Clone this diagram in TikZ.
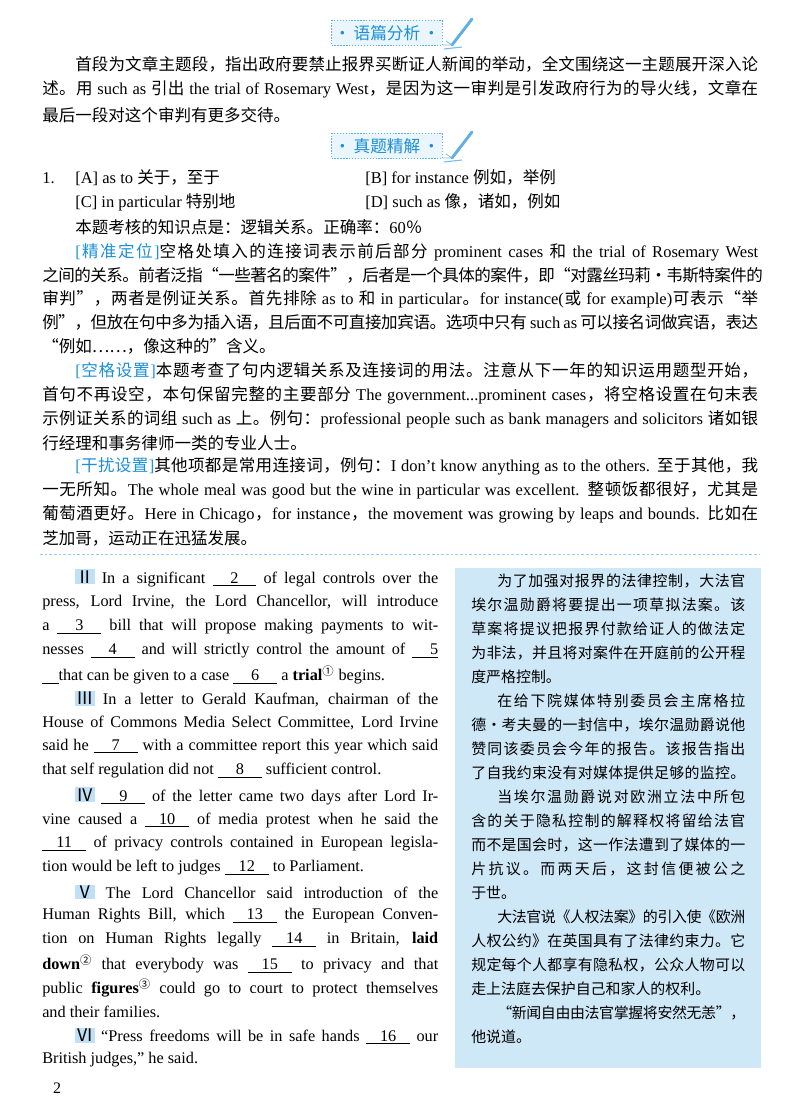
\documentclass[tikz,border=0pt]{standalone}
\usepackage{fontspec}
\usetikzlibrary{calc}
\setmainfont{Liberation Serif}
\newfontfamily\cjk{Noto Sans CJK SC}
\definecolor{hblue}{HTML}{1C8FD6}
\definecolor{hfill}{HTML}{EAF5FC}
\definecolor{boxblue}{HTML}{CFE8F7}
\definecolor{rnblue}{HTML}{BFE0F5}
\makeatletter
\XeTeXinterchartokenstate=1
\newXeTeXintercharclass\cjkclass
\def\setcls#1#2{\count@=#1 \loop\XeTeXcharclass\count@=\cjkclass\advance\count@ 1 \ifnum\count@<#2\repeat}
\setcls{"4E00}{"A000}
\setcls{"3000}{"3040}
\setcls{"FF00}{"FFF0}
\setcls{"2160}{"2180}
\setcls{"2460}{"2500}
\XeTeXcharclass"201C=\cjkclass \XeTeXcharclass"201D=\cjkclass
\XeTeXcharclass"2026=\cjkclass \XeTeXcharclass"00B7=\cjkclass
\makeatother
\XeTeXinterchartoks 0 \cjkclass {\hskip0pt plus 1pt minus 0.3pt\cjk}
\XeTeXinterchartoks 4095 \cjkclass {\cjk}
\XeTeXinterchartoks \cjkclass 0 {\rmfamily\hskip0pt plus 1pt minus 0.3pt}
\XeTeXinterchartoks \cjkclass 4095 {\rmfamily}
\XeTeXinterchartoks \cjkclass \cjkclass {\hskip0pt plus 1pt minus 0.4pt}
\newdimen\pxu \pxu=0.75pt
\newcommand\J[4]{\node[anchor=west,inner sep=0pt] at (#1,#2) {\hbox to #3\pxu{#4}};}
\newcommand\Lf[3]{\node[anchor=west,inner sep=0pt] at (#1,#2) {#3};}
\newcommand\bt[1]{{\color{hblue}#1}}
\newcommand\bl[1]{\underline{\makebox[2.7em]{#1}}}
\newcommand\rn[1]{{\setlength{\fboxsep}{0.8pt}\colorbox{rnblue}{\fontsize{13}{14}\selectfont#1}}}
\tikzset{
 hdr/.style={draw=hblue!70, dash pattern=on 1pt off 1.2pt, fill=hfill, text=hblue,
   font=\fontsize{12.5}{15}\selectfont, minimum width=79pt, minimum height=19pt, inner sep=2pt},
 pen/.style={hblue!70, line width=2.2pt, line cap=round},
 top/.style={every node/.append style={font=\fontsize{12.4}{15}\selectfont}},
 lcol/.style={every node/.append style={font=\fontsize{12.2}{14}\selectfont}},
 rcol/.style={every node/.append style={font=\fontsize{11.2}{14}\selectfont}}
}
\begin{document}
\begin{tikzpicture}[x=0.75pt,y=-0.75pt]
\useasboundingbox (0,0) rectangle (800,1115);
% headers
\node[hdr] (h1) at (387,33) {·\,语篇分析\,·};
\node[hdr] (h2) at (387,146) {·\,真题精解\,·};
\foreach \yy/\nm in {33/a,146/b}{
 \coordinate (pa\nm) at (452,\yy+12); \coordinate (pb\nm) at (472,\yy-14);
 \draw[pen] (pa\nm) -- (pb\nm);
 \draw[hblue!60, line width=0.8pt] ($(pa\nm)+(-8,4)$) -- ($(pa\nm)+(10,2)$);
 \draw[hblue!60, line width=0.6pt] ($(pa\nm)+(-6,-4)$) -- (pa\nm) -- ($(pa\nm)+(-9,0)$);
}
\begin{scope}[top]
\J{75}{64}{683}{首段为文章主题段，指出政府要禁止报界买断证人新闻的举动，全文围绕这一主题展开深入论}
\J{42}{89}{716}{述。用 such as 引出 the trial of Rosemary West，是因为这一审判是引发政府行为的导火线，文章在}
\Lf{42}{115}{最后一段对这个审判有更多交待。}
\Lf{42}{178}{1.}
\Lf{75}{178}{[A] as to 关于，至于}
\Lf{365}{178}{[B] for instance 例如，举例}
\Lf{75}{202}{[C] in particular 特别地}
\Lf{365}{202}{[D] such as 像，诸如，例如}
\Lf{75}{227}{本题考核的知识点是：逻辑关系。正确率：60％}
\J{75}{252}{683}{\bt{[精准定位]}空格处填入的连接词表示前后部分 prominent cases 和 the trial of Rosemary West}
\J{42}{275}{716}{之间的关系。前者泛指“一些著名的案件”，后者是一个具体的案件，即“对露丝玛莉·韦斯特案件的}
\J{42}{299}{716}{审判”，两者是例证关系。首先排除 as to 和 in particular。for instance(或 for example)可表示“举}
\J{42}{322}{716}{例”，但放在句中多为插入语，且后面不可直接加宾语。选项中只有 such as 可以接名词做宾语，表达}
\Lf{42}{346}{“例如……，像这种的”含义。}
\J{75}{371}{683}{\bt{[空格设置]}本题考查了句内逻辑关系及连接词的用法。注意从下一年的知识运用题型开始，}
\J{42}{395}{716}{首句不再设空，本句保留完整的主要部分 The government...prominent cases，将空格设置在句末表}
\J{42}{419}{716}{示例证关系的词组 such as 上。例句：professional people such as bank managers and solicitors 诸如银}
\Lf{42}{443}{行经理和事务律师一类的专业人士。}
\J{75}{466}{683}{\bt{[干扰设置]}其他项都是常用连接词，例句：I don't know anything as to the others. 至于其他，我}
\J{42}{490}{716}{一无所知。The whole meal was good but the wine in particular was excellent. 整顿饭都很好，尤其是}
\J{42}{514}{716}{葡萄酒更好。Here in Chicago，for instance，the movement was growing by leaps and bounds. 比如在}
\Lf{42}{538}{芝加哥，运动正在迅猛发展。}
\end{scope}
\coordinate (s1) at (40,554); \coordinate (s2) at (760,554);
\draw[hblue!45, dash pattern=on 2pt off 1.5pt, line width=0.7pt] (s1) -- (s2);
% right box
\node[fill=boxblue, inner sep=0pt, minimum width=229.5pt, minimum height=375pt, anchor=north west] (rbox) at (455,568) {};
\begin{scope}[lcol]
\J{75}{578}{363}{\rn{Ⅱ} In a significant \bl{2} of legal controls over the}
\J{42}{603}{396}{press, Lord Irvine, the Lord Chancellor, will introduce}
\J{42}{627}{396}{a \bl{3} bill that will propose making payments to wit-}
\J{42}{651}{396}{nesses \bl{4} and will strictly control the amount of \underline{\makebox[1.6em][r]{5}}}
\Lf{42}{675}{\underline{\makebox[1em]{}}that can be given to a case \bl{6} a \textbf{trial}\textsuperscript{①} begins.}
\J{75}{699}{363}{\rn{Ⅲ} In a letter to Gerald Kaufman, chairman of the}
\J{42}{723}{396}{House of Commons Media Select Committee, Lord Irvine}
\J{42}{747}{396}{said he \bl{7} with a committee report this year which said}
\Lf{42}{771}{that self regulation did not \bl{8} sufficient control.}
\J{75}{796}{363}{\rn{Ⅳ} \bl{9} of the letter came two days after Lord Ir-}
\J{42}{820}{396}{vine caused a \bl{10} of media protest when he said the}
\J{42}{844}{396}{\bl{11} of privacy controls contained in European legisla-}
\Lf{42}{868}{tion would be left to judges \bl{12} to Parliament.}
\J{75}{892}{363}{\rn{Ⅴ} The Lord Chancellor said introduction of the}
\J{42}{916}{396}{Human Rights Bill, which \bl{13} the European Conven-}
\J{42}{940}{396}{tion on Human Rights legally \bl{14} in Britain, \textbf{laid}}
\J{42}{964}{396}{\textbf{down}\textsuperscript{②} that everybody was \bl{15} to privacy and that}
\J{42}{988}{396}{public \textbf{figures}\textsuperscript{③} could go to court to protect themselves}
\Lf{42}{1012}{and their families.}
\J{75}{1036}{363}{\rn{Ⅵ} ``Press freedoms will be in safe hands \bl{16} our}
\Lf{42}{1060}{British judges,'' he said.}
\end{scope}
\begin{scope}[rcol]
\J{497}{581}{248}{为了加强对报界的法律控制，大法官}
\J{471}{605}{274}{埃尔温勋爵将要提出一项草拟法案。该}
\J{471}{629}{274}{草案将提议把报界付款给证人的做法定}
\J{471}{653}{274}{为非法，并且将对案件在开庭前的公开程}
\Lf{471}{677}{度严格控制。}
\J{497}{701}{248}{在给下院媒体特别委员会主席格拉}
\J{471}{725}{274}{德·考夫曼的一封信中，埃尔温勋爵说他}
\J{471}{749}{274}{赞同该委员会今年的报告。该报告指出}
\J{471}{773}{274}{了自我约束没有对媒体提供足够的监控。}
\J{497}{797}{248}{当埃尔温勋爵说对欧洲立法中所包}
\J{471}{821}{274}{含的关于隐私控制的解释权将留给法官}
\J{471}{845}{274}{而不是国会时，这一作法遭到了媒体的一}
\J{471}{869}{274}{片抗议。而两天后，这封信便被公之}
\Lf{471}{893}{于世。}
\J{497}{917}{248}{大法官说《人权法案》的引入使《欧洲}
\J{471}{941}{274}{人权公约》在英国具有了法律约束力。它}
\J{471}{965}{274}{规定每个人都享有隐私权，公众人物可以}
\Lf{471}{989}{走上法庭去保护自己和家人的权利。}
\J{497}{1013}{248}{“新闻自由由法官掌握将安然无恙”，}
\Lf{471}{1037}{他说道。}
\end{scope}
\node[font=\fontsize{12}{14}\selectfont, inner sep=0pt] (pg) at (57,1088) {2};
\end{tikzpicture}
\end{document}
